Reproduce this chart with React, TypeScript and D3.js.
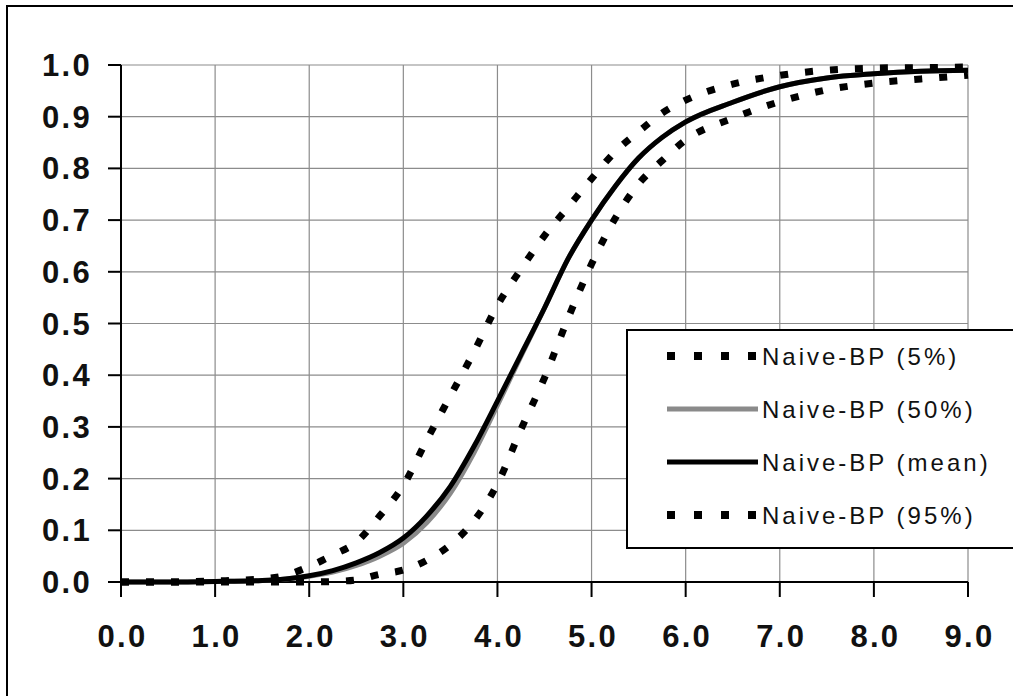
import React from "react";
import * as d3 from "d3";

// x positions the curves were read at
const xValues = [0, 0.5, 1, 1.5, 1.75, 2, 2.25, 2.5, 2.75, 3, 3.25, 3.5, 3.75, 4, 4.25, 4.5, 4.75, 5, 5.25, 5.5, 5.75, 6, 6.5, 7, 7.5, 8, 8.5, 9];

const q5 = [0, 0, 0.002, 0.006, 0.013, 0.03, 0.052, 0.077, 0.128, 0.187, 0.275, 0.36, 0.445, 0.535, 0.605, 0.67, 0.725, 0.78, 0.832, 0.871, 0.907, 0.932, 0.963, 0.98, 0.99, 0.994, 0.995, 0.996];
const q50 = [0, 0, 0.001, 0.003, 0.006, 0.011, 0.019, 0.032, 0.05, 0.075, 0.115, 0.172, 0.25, 0.342, 0.437, 0.53, 0.625, 0.7, 0.765, 0.82, 0.86, 0.89, 0.928, 0.958, 0.975, 0.983, 0.988, 0.99];
const meanVals = [0, 0, 0.001, 0.003, 0.006, 0.012, 0.022, 0.037, 0.057, 0.085, 0.128, 0.185, 0.262, 0.35, 0.44, 0.53, 0.625, 0.7, 0.765, 0.82, 0.86, 0.89, 0.928, 0.958, 0.975, 0.983, 0.988, 0.99];
const q95 = [0, 0, 0, 0, 0, 0, 0.001, 0.004, 0.015, 0.023, 0.042, 0.072, 0.118, 0.19, 0.295, 0.395, 0.51, 0.615, 0.703, 0.77, 0.815, 0.855, 0.897, 0.929, 0.952, 0.965, 0.973, 0.98];

const xTicks = [0, 1, 2, 3, 4, 5, 6, 7, 8, 9];
const yTicks = [0, 0.1, 0.2, 0.3, 0.4, 0.5, 0.6, 0.7, 0.8, 0.9, 1.0];

const seriesNames = ["Naive-BP (5%)", "Naive-BP (50%)", "Naive-BP (mean)", "Naive-BP (95%)"];

const styles: Record<string, { stroke: string; width: number; dash?: string }> = {
  "Naive-BP (5%)": { stroke: "#000", width: 7, dash: "8 17" },
  "Naive-BP (50%)": { stroke: "#8a8a8a", width: 5 },
  "Naive-BP (mean)": { stroke: "#000", width: 5 },
  "Naive-BP (95%)": { stroke: "#000", width: 7, dash: "8 17" },
};

export default function App() {
  const W = 1013, H = 696;
  const x = d3.scaleLinear().domain([0, 9]).range([121, 968]);
  const y = d3.scaleLinear().domain([0, 1]).range([582, 65]);

  const line = d3.line<number>()
    .x((_, i) => x(xValues[i]))
    .y(d => y(d))
    .curve(d3.curveMonotoneX);

  const data: Record<string, number[]> = {
    "Naive-BP (5%)": q5,
    "Naive-BP (50%)": q50,
    "Naive-BP (mean)": meanVals,
    "Naive-BP (95%)": q95,
  };
  // draw gray median under the mean
  const drawOrder = ["Naive-BP (50%)", "Naive-BP (mean)", "Naive-BP (5%)", "Naive-BP (95%)"];

  const legX = 627, legY = 330;

  return (
    <svg width={W} height={H} style={{ position: "fixed", left: 0, top: 0, background: "#fff" }}
      fontFamily="'Liberation Sans', Arial, sans-serif">
      <rect x={7} y={6} width={W} height={H} fill="#fff" stroke="#000" strokeWidth={2} />

      {/* grid */}
      {xTicks.slice(1).map(t => (
        <line key={"gx" + t} x1={x(t)} x2={x(t)} y1={y(1)} y2={y(0)} stroke="#8c8c8c" strokeWidth={1.2} />
      ))}
      {yTicks.slice(1).map(t => (
        <line key={"gy" + t} x1={x(0)} x2={x(9)} y1={y(t)} y2={y(t)} stroke="#8c8c8c" strokeWidth={1.2} />
      ))}

      {/* axes */}
      <line x1={x(0)} x2={x(0)} y1={y(1)} y2={y(0)} stroke="#000" strokeWidth={2} />
      <line x1={x(0)} x2={x(9)} y1={y(0)} y2={y(0)} stroke="#000" strokeWidth={2} />
      {yTicks.map(t => (
        <g key={"yt" + t}>
          <line x1={x(0) - 13} x2={x(0)} y1={y(t)} y2={y(t)} stroke="#000" strokeWidth={2} />
          <text x={92} y={y(t) + 11} textAnchor="end" fontSize={31} fontWeight="bold"
            letterSpacing={2.3} fill="#111">{t.toFixed(1)}</text>
        </g>
      ))}
      {xTicks.map(t => (
        <g key={"xt" + t}>
          <line x1={x(t)} x2={x(t)} y1={y(0)} y2={y(0) + 15} stroke="#000" strokeWidth={2} />
          <text x={x(t) + 1.5} y={647} textAnchor="middle" fontSize={31} fontWeight="bold"
            letterSpacing={2.3} fill="#111">{t.toFixed(1)}</text>
        </g>
      ))}

      {/* curves */}
      {drawOrder.map(name => (
        <path key={name} d={line(data[name]) || ""} fill="none" stroke={styles[name].stroke}
          strokeWidth={styles[name].width} strokeDasharray={styles[name].dash} />
      ))}

      {/* legend */}
      <rect x={legX} y={legY} width={W} height={218} fill="#fff" stroke="#000" strokeWidth={2} />
      {seriesNames.map((name, i) => {
        const cy = 356 + i * 53;
        const s = styles[name];
        return (
          <g key={"lg" + name}>
            <line x1={667} x2={758} y1={cy} y2={cy} stroke={s.stroke}
              strokeWidth={s.dash ? 8 : s.width} strokeDasharray={s.dash ? "8 19" : undefined} />
            <text x={762} y={cy + 9} fontSize={24} letterSpacing={3} fill="#111">{name}</text>
          </g>
        );
      })}
    </svg>
  );
}
